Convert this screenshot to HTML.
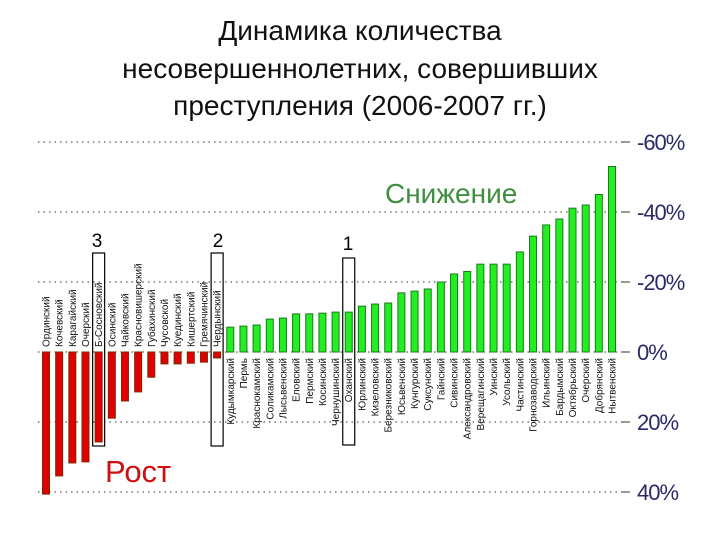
<!DOCTYPE html>
<html><head><meta charset="utf-8"><style>
body{margin:0;background:#fff;}
svg text{font-family:"Liberation Sans",sans-serif;}
</style></head><body>
<svg width="720" height="540" id="c">
<g font-size="28" text-anchor="middle" fill="#111">
<text x="360" y="40">Динамика количества</text>
<text x="360" y="78">несовершеннолетних, совершивших</text>
<text x="360" y="115">преступления (2006-2007 гг.)</text>
</g>
<g id="grid"></g><g id="bars"></g><g id="labels"></g>
<text x="385" y="203" font-size="28" fill="#3f8f3f">Снижение</text>
<text x="105" y="482" font-size="31" fill="#d01010">Рост</text>
<text x="97" y="247" font-size="19" text-anchor="middle">3</text>
<text x="218" y="247" font-size="19" text-anchor="middle">2</text>
<text x="348" y="250" font-size="19" text-anchor="middle">1</text>
</svg>
<script>
const categories=["Ординский","Кочевский","Карагайский","Очерский","Б-Сосновский","Осинский","Чайковский","Красновишерский","Губахинский","Чусовской","Куединский","Кишертский","Гремячинский","Чердынский","Кудымкарский","Пермь","Краснокамский","Соликамский","Лысьвенский","Еловский","Пермский","Косинский","Чернушинский","Оханский","Юрлинский","Кизеловский","Березниковский","Юсьвенский","Кунгурский","Суксунский","Гайнский","Сивинский","Александровский","Верещагинский","Уинский","Усольский","Частинский","Горнозаводский","Ильинский","Бардымский","Октябрьский","Очерский","Добрянский","Нытвенский"];
const changes=[40.6,35.4,31.7,31.4,25.7,18.9,14,11.4,7.2,3.4,3.4,3.2,2.9,1.7,-7.1,-7.4,-7.7,-9.4,-9.7,-10.9,-10.9,-11.1,-11.4,-11.4,-13.1,-13.7,-14,-16.9,-17.4,-18,-20,-22.3,-23,-25.1,-25.1,-25.1,-28.6,-33.1,-36.3,-38,-41.1,-42,-45,-53];
const ticks=[-60,-40,-20,0,20,40];
const tickLabels=["-60%","-40%","-20%","0%","20%","40%"];
const highlighted=["Б-Сосновский","Чердынский","Оханский"];
const NS="http://www.w3.org/2000/svg";
const y=v=>352+v*3.5;
const x=i=>46+i*(612-46)/(categories.length-1);
function mk(t,a,p){const e=document.createElementNS(NS,t);for(const k in a)e.setAttribute(k,a[k]);p.appendChild(e);return e;}
const g=document.getElementById('grid'),b=document.getElementById('bars'),l=document.getElementById('labels');
ticks.forEach((t,i)=>{
 const ln=mk('line',{x1:38,x2:622,y1:y(t),y2:y(t),stroke:'#333','stroke-dasharray':'1.5,4','stroke-width':1},g);
 
 
 const tk=mk('line',{x1:622,x2:630,y1:y(t),y2:y(t),stroke:'#333'},g);
 
 
 const tx=mk('text',{x:637,y:y(t)+8,'font-size':22,fill:'#2a2a6a','letter-spacing':'-1'},g);
 tx.textContent=tickLabels[i];
 
 
});
categories.forEach((c,i)=>{
 const v=changes[i],cx=x(i),pos=v>0;
 const r=mk('rect',{x:cx-3.5,width:7,y:Math.min(y(0),y(v)),height:Math.abs(y(v)-y(0)),fill:pos?'#e00000':'#22ee22',stroke:pos?'#7a2a00':'#1a7a1a','stroke-width':1},b);
 
 
 const t=mk('text',{'font-size':10,fill:'#111','text-anchor':pos?'start':'end',transform:`translate(${cx+3.5},${pos?347:358}) rotate(-90)`},l);
 t.textContent=c;
 
 
 if(highlighted.includes(c)){
  const bx=mk('rect',{x:cx-6,width:12,y:c==='Оханский'?258:253,height:c==='Оханский'?187:193,fill:'none',stroke:'#000','stroke-width':1.2},l);
  
  
 }
});
</script>
</body></html>
